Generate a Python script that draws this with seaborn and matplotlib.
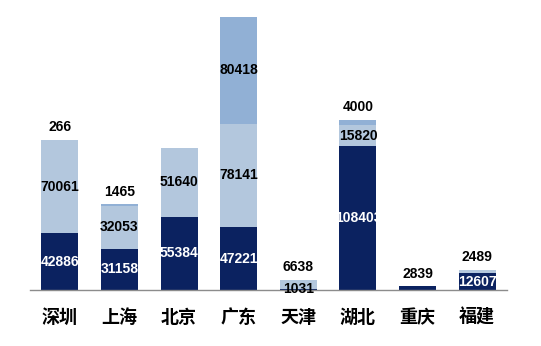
import matplotlib
matplotlib.use("Agg")
import matplotlib.pyplot as plt
import matplotlib.transforms as mtransforms
import numpy as np
import pandas as pd
import seaborn as sns

# Regions and the three stacked components per region
regions = ["深圳", "上海", "北京", "广东", "天津", "湖北", "重庆", "福建"]
seg_bottom = [42886, 31158, 55384, 47221, 1031, 108403, 2839, 12607]
seg_middle = [70061, 32053, 51640, 78141, 6638, 15820, 0, 2489]
seg_top = [266, 1465, 0, 80418, 0, 4000, 0, 0]

colors = ["#0b2260", "#b3c7dd", "#91b0d5"]
text_colors = ["white", "black", "black"]

sns.set_theme(style="white")
plt.rcParams["font.family"] = ["Noto Sans CJK SC", "DejaVu Sans"]

fig = plt.figure(figsize=(5.41, 3.46), dpi=100)
ax = fig.add_axes([30 / 541, 56 / 346, 477 / 541, 280 / 346])

layers = [seg_bottom, seg_middle, seg_top]
df = pd.DataFrame({"region": regions})
base = np.zeros(len(regions))
for i, vals in enumerate(layers):
    df[f"v{i}"] = vals
    df[f"b{i}"] = base.copy()
    sns.barplot(data=df, x="region", y=f"v{i}", bottom=df[f"b{i}"],
                color=colors[i], width=0.62, saturation=1, ax=ax,
                edgecolor="none", linewidth=0)
    base = base + np.array(vals)

totals = base
ax.set_xlim(-0.5, len(regions) - 0.5)
ax.set_ylim(0, 211000)

# Value labels: centred in the segment, or above the bar for thin top segments
small = 7000
above = mtransforms.offset_copy(ax.transData, fig=fig, x=0, y=4, units="points")
for j in range(len(regions)):
    stack = 0
    nonzero = [k for k in range(3) if layers[k][j] > 0]
    for k in range(3):
        v = layers[k][j]
        if v <= 0:
            continue
        is_top = k == nonzero[-1]
        if v < small and is_top:
            ax.text(j, totals[j], f"{v}", ha="center", va="bottom",
                    fontsize=10, fontweight="bold", color="black",
                    family="Liberation Sans", transform=above)
        else:
            c = text_colors[k] if v >= small else "black"
            ax.text(j, stack + v / 2, f"{v}", ha="center", va="center",
                    fontsize=10, fontweight="bold", color=c,
                    family="Liberation Sans")
        stack += v

for side in ["top", "right", "left"]:
    ax.spines[side].set_visible(False)
ax.spines["bottom"].set_color("#8c8c8c")
ax.spines["bottom"].set_linewidth(1.0)
ax.set_yticks([])
ax.set_xlabel("")
ax.set_ylabel("")
ax.tick_params(axis="x", length=0, pad=13)
for lab in ax.get_xticklabels():
    lab.set_fontsize(13)
    lab.set_fontweight("bold")
    lab.set_color("black")

fig.savefig("out.png", dpi=100, facecolor="white")
